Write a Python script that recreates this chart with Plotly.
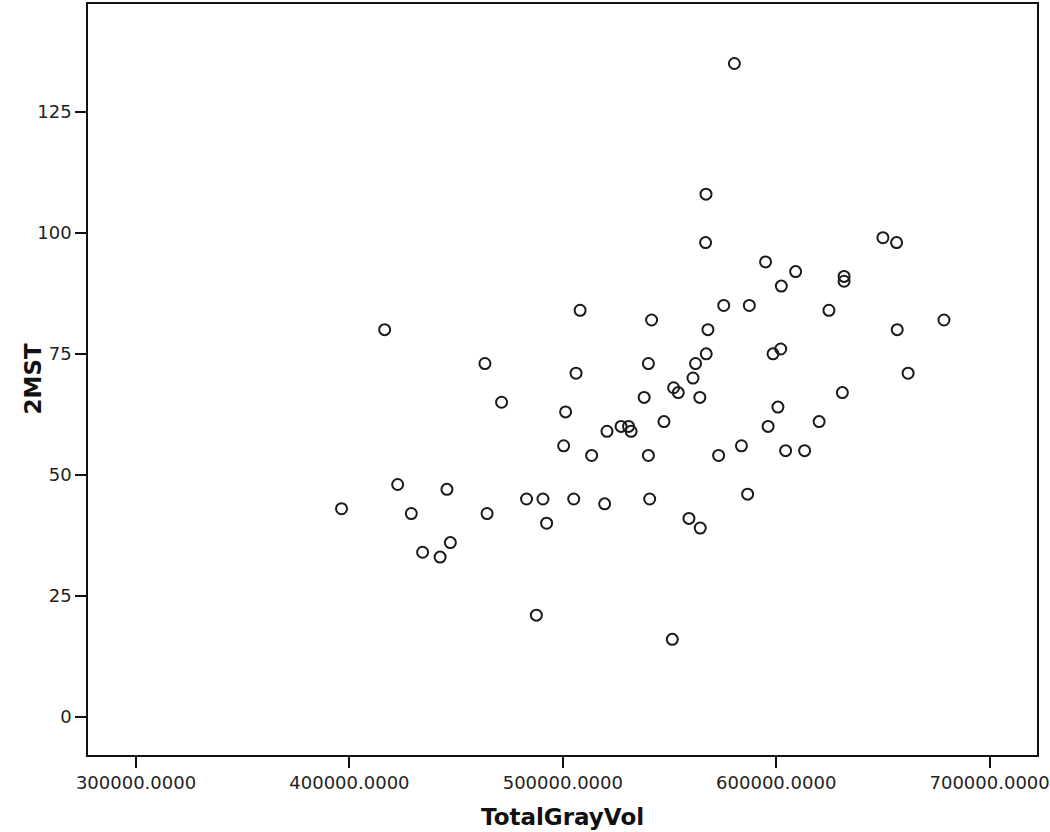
import plotly.graph_objects as go

# Data
total_gray_vol = [
    396300, 416500, 422600, 429000, 434300, 442500, 445700, 447300, 463500, 464500,
    471300, 483000, 487600, 490700, 492400, 500400, 501300, 505100, 506200, 508100,
    513500, 519600, 520700, 527300, 530800, 532000, 538100, 540100, 540100, 540700,
    541600, 547400, 551300, 551900, 554100, 559100, 561000, 562200, 564200, 564400,
    567200, 566900, 567100, 568000, 573000, 575400, 580400, 583700, 586600, 587400,
    595000, 596200, 598500, 600800, 602100, 602400, 604400, 609100, 613300, 620100,
    624700, 631000, 631800, 631800, 650000, 656400, 656700, 661800, 678600,
]
mst2 = [
    43, 80, 48, 42, 34, 33, 47, 36, 73, 42,
    65, 45, 21, 45, 40, 56, 63, 45, 71, 84,
    54, 44, 59, 60, 60, 59, 66, 73, 54, 45,
    82, 61, 16, 68, 67, 41, 70, 73, 66, 39,
    75, 98, 108, 80, 54, 85, 135, 56, 46, 85,
    94, 60, 75, 64, 76, 89, 55, 92, 55, 61,
    84, 67, 91, 90, 99, 98, 80, 71, 82,
]

x_ticks = [300000, 400000, 500000, 600000, 700000]
y_ticks = [0, 25, 50, 75, 100, 125]
x_title = "TotalGrayVol"
y_title = "2MST"

fig = go.Figure()
fig.add_trace(go.Scatter(
    x=total_gray_vol, y=mst2, mode="markers",
    marker=dict(symbol="circle-open", size=11, color="#1a1a1a",
                line=dict(width=2, color="#1a1a1a")),
    hoverinfo="x+y", showlegend=False,
))

axis_common = dict(
    showgrid=False, zeroline=False, showline=True, linecolor="#111",
    linewidth=1.5, mirror=True, ticks="outside", ticklen=11, tickwidth=1.5,
    tickcolor="#111", automargin=False,
    tickfont=dict(family="DejaVu Sans", size=18, color="#222"),
)

fig.update_layout(
    width=1050, height=832,
    margin=dict(l=88, r=13, t=4, b=77),
    paper_bgcolor="white", plot_bgcolor="white",
    xaxis=dict(range=[277500, 722200], tickvals=x_ticks, tickformat=".4f",
               **axis_common),
    yaxis=dict(range=[-7.9, 147.3], tickvals=y_ticks, **axis_common),
    annotations=[
        dict(text=x_title, xref="paper", yref="paper", x=0.5, y=-0.083,
             xanchor="center", yanchor="middle", showarrow=False,
             font=dict(family="DejaVu Sans", size=23, color="#111", weight="bold")),
        dict(text=y_title, xref="paper", yref="paper", x=-0.059, y=0.5,
             xanchor="center", yanchor="middle", showarrow=False, textangle=-90,
             font=dict(family="DejaVu Sans", size=23, color="#111", weight="bold")),
    ],
)

fig.write_html(
    "out.html",
    config={"displayModeBar": False},
    post_script="document.body.style.margin='0';document.body.style.overflow='hidden';",
)
